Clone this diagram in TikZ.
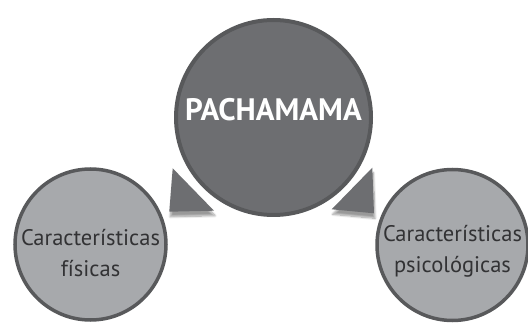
\documentclass[tikz,border=0pt]{standalone}
\usepackage{fontspec}
\setmainfont{PT Sans}
\usepackage{tikz}
\usetikzlibrary{positioning, calc, shadows.blur}
\definecolor{myring}{RGB}{88,89,91}
\definecolor{mymid}{RGB}{109,110,113}
\definecolor{mylight}{RGB}{167,169,172}
\definecolor{mytext}{RGB}{50,50,52}
\tikzset{
  maincirc/.style={circle, draw=myring, fill=mymid, line width=4pt,
    minimum size=195pt, inner sep=0pt},
  subcirc/.style={circle, draw=myring, fill=mylight, line width=3.5pt,
    minimum size=151pt, inner sep=0pt},
  maintext/.style={font=\fontsize{31}{34}\selectfont\bfseries, text=white},
  subtext/.style={font=\fontsize{22.5}{31}\selectfont, text=mytext, align=center},
  pointer/.style={fill=mymid, blur shadow={shadow xshift=1pt, shadow yshift=-5pt,
    shadow blur steps=10, shadow opacity=40}}
}

\begin{document}
\begin{tikzpicture}[x=1pt, y=-1pt]
  \useasboundingbox (0,0) rectangle (528,323);

  % Pointers
  \fill[pointer] (172.7,168.3) -- (169.3,211.7) -- (214,210.7) -- cycle;
  \fill[pointer] (372.3,167.7) -- (331.7,209.3) -- (374,213.3) -- cycle;

  % Central circle
  \node[maincirc] (pacha) at (273.5,117.5) {};
  \node[maintext] (pachatxt) at ([yshift=8pt]pacha.center) {PACHAMAMA};

  % Sub circles
  \node[subcirc] (fis) at (90.5,244.5) {};
  \node[subtext] (fistxt) at ([yshift=-9pt]fis.center) {Características\\físicas};
  \node[subcirc] (psi) at (452.5,245) {};
  \node[subtext] (psitxt) at ([yshift=-6pt]psi.center) {Características\\psicológicas};
\end{tikzpicture}
\end{document}
